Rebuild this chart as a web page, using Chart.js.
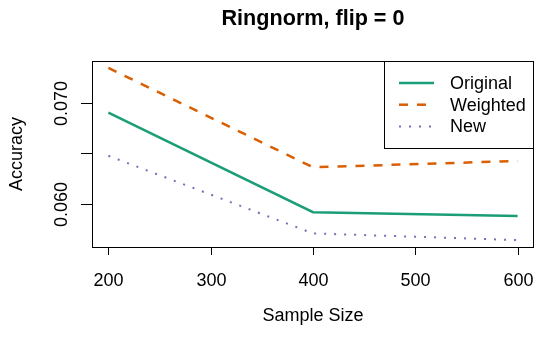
<!DOCTYPE html>
<html>
<head>
<meta charset="utf-8">
<script src="https://cdn.jsdelivr.net/npm/chart.js@4"></script>
<style>
  html, body { margin: 0; padding: 0; background: #fff; }
  #wrap { width: 535px; height: 339px; }
</style>
</head>
<body>
<div id="wrap"><canvas id="c" width="535" height="339"></canvas></div>
<script>
const sampleSizes = [200, 400, 600];
const original = [0.06901, 0.05923, 0.05884];
const weighted = [0.07341, 0.06364, 0.06426];
const newVals = [0.06477, 0.05714, 0.05648];
const xTicks = [200, 300, 400, 500, 600];
const yTicks = [0.060, 0.065, 0.070];
const yTickLabels = ['0.060', '', '0.070'];

const FONT = '"Liberation Sans", Arial, Helvetica, sans-serif';

// R style axis range: data range widened by 4% on each side
function rRange(vals) {
  const lo = Math.min(...vals), hi = Math.max(...vals);
  const d = (hi - lo) * 0.04;
  return [lo - d, hi + d];
}
const [xMin, xMax] = rRange(sampleSizes);
const [yMin, yMax] = rRange([...original, ...weighted, ...newVals]);

function pts(vals) {
  return sampleSizes.map((s, i) => ({ x: s, y: vals[i] }));
}

// box, axes, labels and legend in base R look
const rPlot = {
  id: 'rPlot',
  afterDraw(chart) {
    const ctx = chart.ctx;
    const a = chart.chartArea;
    const xs = chart.scales.x, ys = chart.scales.y;
    ctx.save();
    ctx.strokeStyle = '#000';
    ctx.lineWidth = 1;
    ctx.strokeRect(a.left + 0.5, a.top + 0.5, a.right - a.left - 1, a.bottom - a.top);

    ctx.fillStyle = '#000';
    ctx.font = '18px ' + FONT;
    // x ticks
    ctx.textAlign = 'center';
    ctx.textBaseline = 'alphabetic';
    xTicks.forEach(t => {
      const px = Math.round(xs.getPixelForValue(t)) + 0.5;
      ctx.beginPath();
      ctx.moveTo(px, a.bottom);
      ctx.lineTo(px, a.bottom + 8);
      ctx.stroke();
      ctx.fillText(String(t), px, 286);
    });
    // y ticks, labels rotated
    yTicks.forEach((t, i) => {
      const py = Math.round(ys.getPixelForValue(t)) + 0.5;
      ctx.beginPath();
      ctx.moveTo(a.left - 11, py);
      ctx.lineTo(a.left, py);
      ctx.stroke();
      if (yTickLabels[i]) {
        ctx.save();
        ctx.translate(66.5, py);
        ctx.rotate(-Math.PI / 2);
        ctx.fillText(yTickLabels[i], 0, 0);
        ctx.restore();
      }
    });

    // axis titles
    ctx.fillText('Sample Size', (a.left + a.right) / 2, 321);
    ctx.save();
    ctx.translate(22, (a.top + a.bottom) / 2);
    ctx.rotate(-Math.PI / 2);
    ctx.fillText('Accuracy', 0, 0);
    ctx.restore();

    // main title
    ctx.font = 'bold 21.6px ' + FONT;
    ctx.fillText('Ringnorm, flip = 0', (a.left + a.right) / 2, 25);

    // legend
    const lx = 384.5, ly = a.top + 0.5, lw = a.right - 0.5 - lx, lh = 87;
    ctx.fillStyle = '#fff';
    ctx.fillRect(lx, ly, lw, lh);
    ctx.strokeStyle = '#000';
    ctx.strokeRect(lx, ly, lw, lh);
    ctx.font = '18px ' + FONT;
    ctx.textAlign = 'left';
    ctx.textBaseline = 'middle';
    chart.data.datasets.forEach((ds, i) => {
      const yy = 83 + i * 21.7;
      ctx.strokeStyle = ds.borderColor;
      ctx.lineWidth = ds.borderWidth;
      ctx.setLineDash(ds.borderDash || []);
      ctx.beginPath();
      ctx.moveTo(399, yy);
      ctx.lineTo(434, yy);
      ctx.stroke();
      ctx.setLineDash([]);
      ctx.fillStyle = '#000';
      ctx.fillText(ds.label, 450, yy + 1);
    });
    ctx.restore();
  }
};

new Chart(document.getElementById('c'), {
  type: 'line',
  data: {
    datasets: [
      { label: 'Original', data: pts(original), borderColor: '#1B9E77', borderWidth: 2.5 },
      { label: 'Weighted', data: pts(weighted), borderColor: '#D95F02', borderWidth: 2.5, borderDash: [9, 9] },
      { label: 'New', data: pts(newVals), borderColor: '#7570B3', borderWidth: 2, borderDash: [2, 8] }
    ]
  },
  options: {
    responsive: false,
    animation: false,
    devicePixelRatio: 1,
    layout: { padding: { left: 92, top: 61, right: 1, bottom: 92 } },
    elements: { point: { radius: 0 }, line: { tension: 0 } },
    plugins: { legend: { display: false }, title: { display: false }, tooltip: { enabled: false } },
    scales: {
      x: { type: 'linear', min: xMin, max: xMax, display: false },
      y: { type: 'linear', min: yMin, max: yMax, display: false }
    }
  },
  plugins: [rPlot]
});
</script>
</body>
</html>
